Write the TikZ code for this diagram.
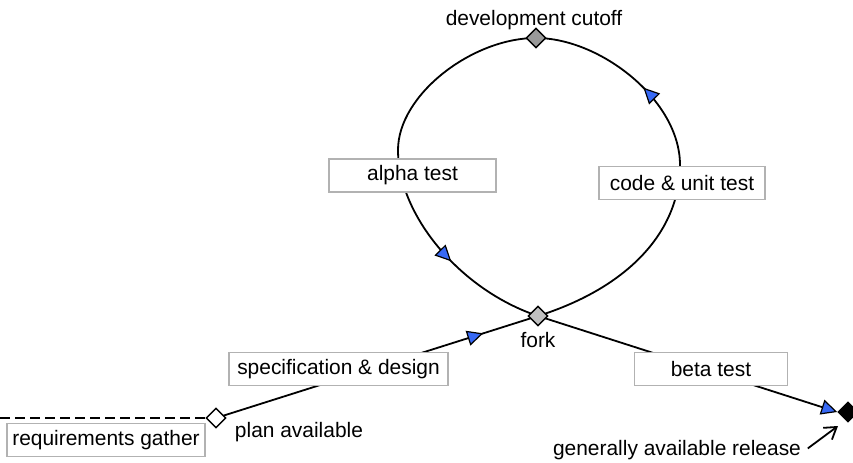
\documentclass[tikz,border=0pt]{standalone}
\usepackage{fontspec}
\setmainfont{Liberation Sans}
\usetikzlibrary{shapes.geometric,arrows.meta,decorations.markings,backgrounds}

\definecolor{flowblue}{RGB}{55,105,245}

\tikzset{
  milestone/.style={diamond, draw=black, line width=1.1pt, minimum size=15pt, inner sep=0pt},
  taskbox/.style={draw=gray!60, line width=1.2pt, fill=white, minimum height=25pt, inner sep=2pt},
  flow/.style={line width=1.35pt},
  flowtip/.tip={Triangle[length=12pt, width=11.5pt, fill=flowblue, line width=0.9pt]},
  midtip/.style={postaction={decorate},
    decoration={markings, mark=at position #1 with {\arrow{flowtip}}}},
}

\begin{document}
\begin{tikzpicture}[x=0.75pt, y=-0.75pt, every node/.style={font=\fontsize{15.7}{18}\selectfont}]
\useasboundingbox (0,0) rectangle (853,463);

% milestones
\node[milestone, fill=white] (plan) at (216,418) {};
\node[milestone, fill=gray!50] (fork) at (538,316) {};
\node[milestone, fill=gray!80] (cutoff) at (536,38) {};
\node[milestone, fill=black] (release) at (848,412) {};

\node (plantext) at (299,432) {plan available};
\node (forktext) at (538,340) {fork};
\node (cutofftext) at (534,20) {development cutoff};
\node (gatext) at (677,450) {generally available release};

% tasks
\node[taskbox, minimum width=148.5pt] (req) at (106,440) {requirements gather};
\node[taskbox, minimum width=164pt] (spec) at (338.5,369) {specification \& design};
\node[taskbox, minimum width=124.5pt] (code) at (682,183) {code \& unit test};
\node[taskbox, minimum width=125pt] (alpha) at (412.5,175.5) {alpha test};
\node[taskbox, minimum width=115pt] (beta) at (711,369) {beta test};

\coordinate (start) at (0,418);
\coordinate (rt) at (680,165);
\coordinate (lt) at (398,150);
\coordinate (gatip) at (838,426);

\begin{scope}[on background layer]
\draw[flow, dash pattern=on 7.5pt off 3.75pt] (start) -- (plan.center);
\draw[flow, midtip=0.83] (plan.center) -- (fork.center);
\draw[flow] (fork.center) .. controls (630,287) and (680,230) .. (rt);
\draw[flow, midtip=0.42] (rt) .. controls (680,100) and (600,38) .. (cutoff.center);
\draw[flow] (cutoff.center) .. controls (472,38) and (398,95) .. (lt);
\draw[flow, midtip=0.55] (lt) .. controls (398,215) and (460,290) .. (fork.center);
\draw[flow, -{flowtip}] (fork.center) -- (release.west);
\end{scope}

\draw[flow, shorten <=2pt, -{Straight Barb[length=8.5pt, width=11pt]}] (gatext.east) -- (gatip);

\end{tikzpicture}
\end{document}
